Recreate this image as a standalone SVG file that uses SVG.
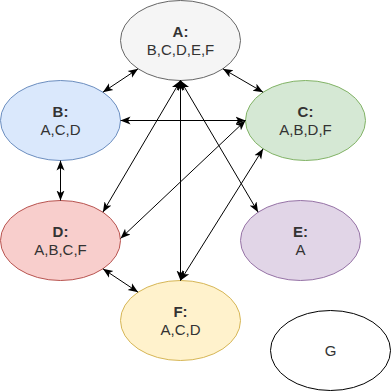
<svg xmlns="http://www.w3.org/2000/svg" width="391" height="391" viewBox="0 0 391 391">
  <style>
    .node text { font-family: "Liberation Sans", Arial, sans-serif; font-size: 15px; fill: #333333; text-anchor: middle; }
    .node .title { font-weight: bold; }
    .edge { stroke: #000000; stroke-width: 1; fill: none; marker-start: url(#arrow); marker-end: url(#arrow); }
  </style>
  <defs>
    <marker id="arrow" viewBox="0 0 10 10" refX="10" refY="5" markerWidth="10" markerHeight="10" markerUnits="userSpaceOnUse" orient="auto-start-reverse">
      <path d="M0,1 L10,5 L0,9 L2.5,5 Z" fill="#000000"/>
    </marker>
  </defs>

  <rect width="391" height="391" fill="#ffffff"/>

  <!-- nodes -->
  <g id="node-A" class="node">
    <ellipse cx="180.5" cy="40.5" rx="60" ry="40" fill="#f5f5f5" stroke="#666666"/>
    <text x="180.5" y="37" class="title">A:</text>
    <text x="180.5" y="55">B,C,D,E,F</text>
  </g>
  <g id="node-B" class="node">
    <ellipse cx="60.5" cy="120.5" rx="60" ry="40" fill="#dae8fc" stroke="#6c8ebf"/>
    <text x="60.5" y="117" class="title">B:</text>
    <text x="60.5" y="135">A,C,D</text>
  </g>
  <g id="node-C" class="node">
    <ellipse cx="305.5" cy="120.5" rx="60" ry="40" fill="#d5e8d4" stroke="#82b366"/>
    <text x="305.5" y="117" class="title">C:</text>
    <text x="305.5" y="135">A,B,D,F</text>
  </g>
  <g id="node-D" class="node">
    <ellipse cx="60.5" cy="240.5" rx="60" ry="40" fill="#f8cecc" stroke="#b85450"/>
    <text x="60.5" y="237" class="title">D:</text>
    <text x="60.5" y="255">A,B,C,F</text>
  </g>
  <g id="node-E" class="node">
    <ellipse cx="300.5" cy="240.5" rx="60" ry="40" fill="#e1d5e7" stroke="#9673a6"/>
    <text x="300.5" y="237" class="title">E:</text>
    <text x="300.5" y="255">A</text>
  </g>
  <g id="node-F" class="node">
    <ellipse cx="180.5" cy="320.5" rx="60" ry="40" fill="#fff2cc" stroke="#d6b656"/>
    <text x="180.5" y="317" class="title">F:</text>
    <text x="180.5" y="335">A,C,D</text>
  </g>
  <g id="node-G" class="node">
    <ellipse cx="330.5" cy="350.5" rx="60" ry="40" fill="#ffffff" stroke="#000000"/>
    <text x="330.5" y="356">G</text>
  </g>

  <!-- connectors (all bidirectional) -->
  <g id="edges">
    <line class="edge" x1="138.1" y1="68.8" x2="102.9" y2="92.2"/>
    <line class="edge" x1="222.9" y1="68.8" x2="263.1" y2="92.2"/>
    <line class="edge" x1="180.5" y1="80.5" x2="102.9" y2="212.2"/>
    <line class="edge" x1="180.5" y1="80.5" x2="258.1" y2="212.2"/>
    <line class="edge" x1="180.5" y1="80.5" x2="180.5" y2="280.5"/>
    <line class="edge" x1="120.5" y1="120.5" x2="245.5" y2="120.5"/>
    <line class="edge" x1="60.5" y1="160.5" x2="60.5" y2="200.5"/>
    <line class="edge" x1="245.5" y1="120.5" x2="120.5" y2="238.5"/>
    <line class="edge" x1="263.1" y1="148.8" x2="180.5" y2="280.5"/>
    <line class="edge" x1="102.9" y1="268.8" x2="138.1" y2="292.2"/>
  </g>
</svg>
